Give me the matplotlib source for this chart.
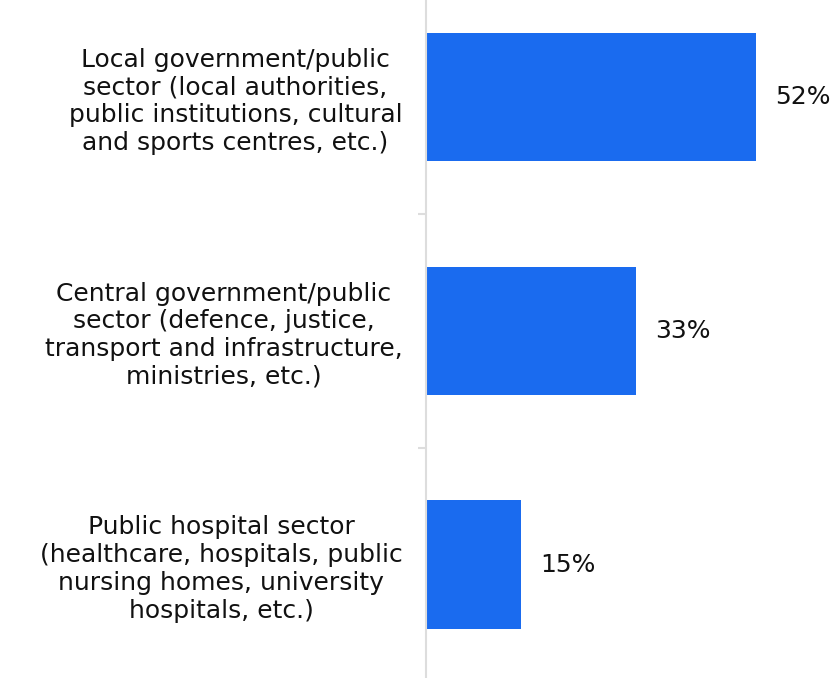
import matplotlib.pyplot as plt

# sector shares
sectors = [
    "Local government/public\nsector (local authorities,\npublic institutions, cultural\nand sports centres, etc.)",
    "Central government/public\nsector (defence, justice,\ntransport and infrastructure,\nministries, etc.)",
    "Public hospital sector\n(healthcare, hospitals, public\nnursing homes, university\nhospitals, etc.)",
]
shares = [52, 33, 15]

plt.rcParams['font.family'] = 'DejaVu Sans'

fig = plt.figure(figsize=(8.35, 6.78), dpi=100)
ax = fig.add_axes([426 / 835, 0, 1 - 426 / 835, 1])

pos = list(range(len(sectors)))
bars = ax.barh(pos, shares, height=0.55, color='#1a6bef')

for b, v in zip(bars, shares):
    ax.text(b.get_width() + 3.0, b.get_y() + b.get_height() / 2, f"{v}%",
            va='center', ha='left', fontsize=18, color='#111111')

ax.set_xlim(0, 64.4)
ax.set_ylim(2.485, -0.415)

ax.set_yticks(pos)
ax.set_yticklabels(sectors, fontsize=18, multialignment='center', color='#111111')
ax.tick_params(axis='y', which='major', length=0, pad=17)
ax.set_yticks([0.5, 1.5], minor=True)
ax.tick_params(axis='y', which='minor', length=6, width=1.5, color='#dddddd')
ax.set_xticks([])

for s in ['top', 'right', 'bottom']:
    ax.spines[s].set_visible(False)
ax.spines['left'].set_color('#dddddd')
ax.spines['left'].set_linewidth(1.5)

fig.savefig('out.png', dpi=100)
